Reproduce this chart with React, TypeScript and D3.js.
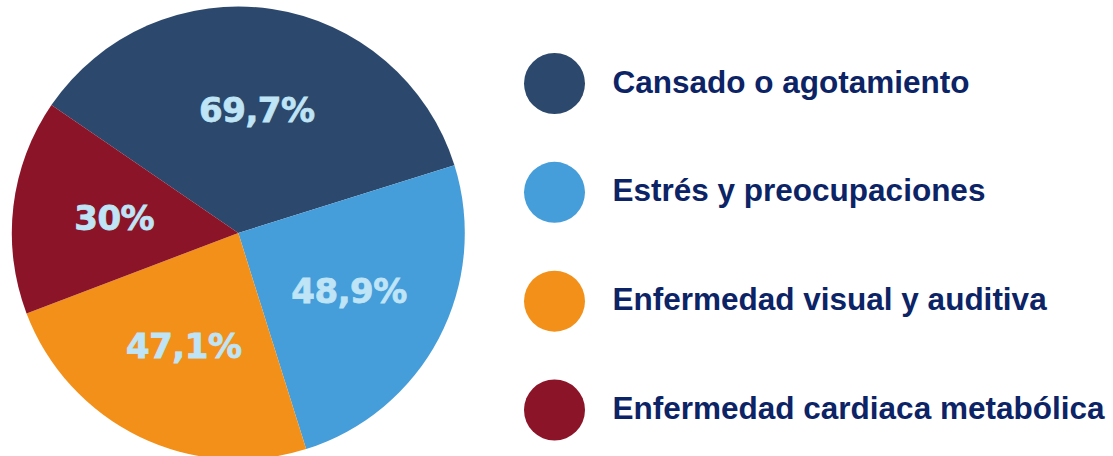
import React from "react";
import * as d3 from "d3";

const categories = [
  "Cansado o agotamiento",
  "Estrés y preocupaciones",
  "Enfermedad visual y auditiva",
  "Enfermedad cardiaca metabólica",
];
const values = [69.7, 48.9, 47.1, 30];
const valueLabels = ["69,7%", "48,9%", "47,1%", "30%"];
const colors = ["#2c486c", "#459dda", "#f39019", "#8c1428"];

const W = 1113;
const H = 456;
const CX = 238.3;
const CY = 233;
const R = 226.5;

export default function App() {
  const pie = d3
    .pie<number>()
    .sort(null)
    .value((d) => d)
    .startAngle((-55.6 * Math.PI) / 180)
    .endAngle((-55.6 * Math.PI) / 180 + 2 * Math.PI);
  const arcs = pie(values);
  const arc = d3.arc<d3.PieArcDatum<number>>().innerRadius(0).outerRadius(R);
  const labelArc = d3
    .arc<d3.PieArcDatum<number>>()
    .innerRadius(125)
    .outerRadius(125);

  const legendY = d3
    .scalePoint<string>()
    .domain(categories)
    .range([83.5, 410]);

  return (
    <svg
      width={W}
      height={H}
      style={{ position: "absolute", left: 0, top: 0, background: "#fff" }}
    >
      <g transform={`translate(${CX},${CY})`}>
        {arcs.map((a, i) => (
          <path key={i} d={arc(a) || ""} fill={colors[i]} />
        ))}
        {arcs.map((a, i) => {
          const [x, y] = labelArc.centroid(a);
          return (
            <text
              key={"l" + i}
              x={x}
              y={y}
              dy="0.36em"
              textAnchor="middle"
              fill="#bee4f6"
              stroke="#bee4f6"
              strokeWidth={0.8}
              fontFamily="'DejaVu Sans', sans-serif"
              fontWeight="bold"
              fontSize={34}
              letterSpacing={-0.5}
            >
              {valueLabels[i]}
            </text>
          );
        })}
      </g>
      {categories.map((c, i) => {
        const y = legendY(c) as number;
        return (
          <g key={"g" + i}>
            <circle cx={554.5} cy={y} r={30.5} fill={colors[i]} />
            <text
              x={612.5}
              y={y + 9}
              fill="#0c2466"
              fontFamily="'Liberation Sans', Arial, sans-serif"
              fontWeight="bold"
              fontSize={31.5}
            >
              {c}
            </text>
          </g>
        );
      })}
    </svg>
  );
}
